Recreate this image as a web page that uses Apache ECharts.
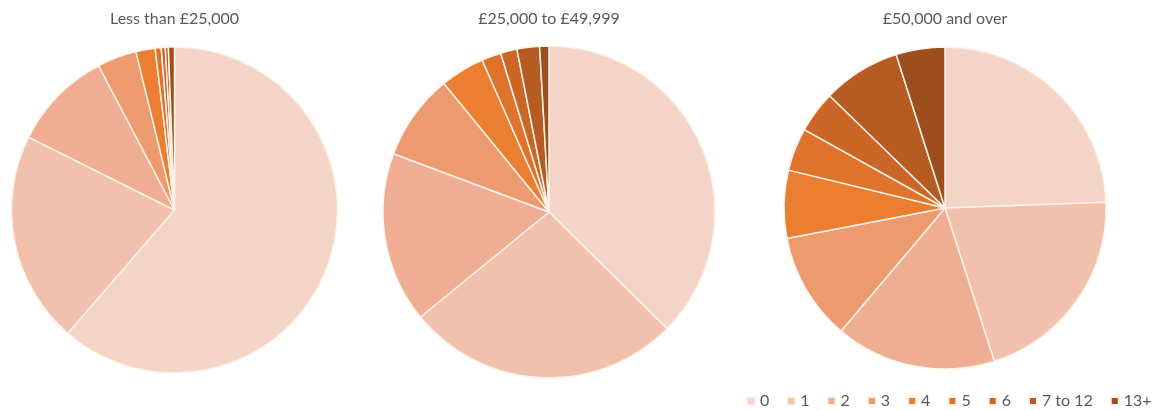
<!DOCTYPE html>
<html>
<head>
<meta charset="utf-8">
<script src="https://cdn.jsdelivr.net/npm/echarts@6/dist/echarts.min.js"></script>
<style>
  html, body { margin: 0; padding: 0; background: #ffffff; }
  #chart { width: 1165px; height: 410px; }
</style>
</head>
<body>
<div id="chart"></div>
<script>
// Number of items per household, by income band (percent of households)
const categories = ['0', '1', '2', '3', '4', '5', '6', '7 to 12', '13+'];
const bandTitles = ['Less than £25,000', '£25,000 to £49,999', '£50,000 and over'];
const lessThan25k = [61.3, 21.0, 9.9, 3.9, 1.9, 0.6, 0.4, 0.3, 0.6];
const from25kTo49k = [37.4, 26.7, 16.6, 8.4, 4.3, 1.9, 1.6, 2.2, 0.9];
const over50k = [24.4, 20.6, 16.1, 10.8, 6.8, 4.3, 4.2, 7.8, 4.9];

const palette = ['#f5d4c8', '#f2c1ae', '#efae93', '#ec9a6e', '#eb7e30',
                 '#e0732c', '#cc6627', '#b65b22', '#9c4e1c'];
const font = 'Lato, "Open Sans", sans-serif';

const bands = [lessThan25k, from25kTo49k, over50k];
const centers = [[174.5, 210], [549, 212], [945, 208]];
const radii = [163, 166, 161];

const chart = echarts.init(document.getElementById('chart'), null, { renderer: 'canvas' });

chart.setOption({
  animation: false,
  color: palette,
  title: bandTitles.map((t, i) => ({
    text: t,
    left: centers[i][0],
    top: 11,
    padding: 0,
    textAlign: 'center',
    textStyle: { fontFamily: font, fontSize: 16, fontWeight: 'normal', color: '#595959' }
  })),
  legend: {
    data: categories,
    left: 741,
    top: 388,
    itemWidth: 8,
    itemHeight: 8,
    itemGap: 17,
    icon: 'rect',
    selectedMode: false,
    textStyle: { fontFamily: font, fontSize: 16, color: '#595959' }
  },
  series: bands.map((vals, i) => ({
    type: 'pie',
    center: centers[i],
    radius: radii[i],
    startAngle: 90,
    clockwise: true,
    label: { show: false },
    labelLine: { show: false },
    emphasis: { disabled: true },
    itemStyle: { borderColor: '#fdf2e8', borderWidth: 1.5 },
    data: categories.map((c, k) => ({ name: c, value: vals[k] }))
  }))
});
</script>
</body>
</html>
